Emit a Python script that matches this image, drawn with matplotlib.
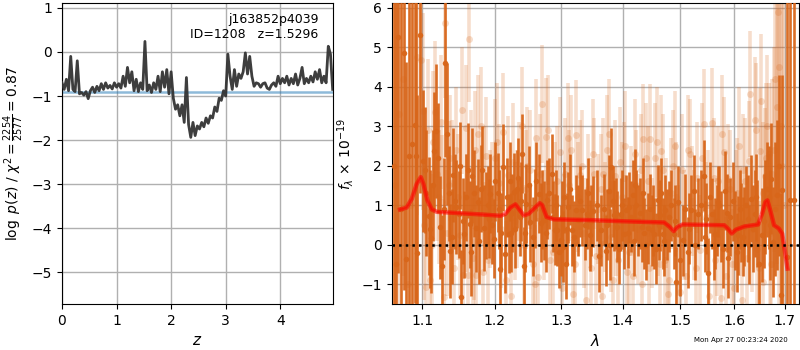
import numpy as np
import matplotlib
matplotlib.use('Agg')
import matplotlib.pyplot as plt
from matplotlib.ticker import FixedLocator, FixedFormatter, NullLocator

# ---------------- p(z) data ----------------
z_grid = [0.00, 0.04, 0.08, 0.12, 0.16, 0.20, 0.24, 0.28, 0.32, 0.36,
          0.40, 0.44, 0.48, 0.52, 0.56, 0.60, 0.64, 0.68, 0.72, 0.76,
          0.80, 0.84, 0.88, 0.92, 0.96, 1.00, 1.04, 1.08, 1.12, 1.16,
          1.20, 1.24, 1.28, 1.32, 1.36, 1.40, 1.44, 1.48, 1.52, 1.56,
          1.60, 1.64, 1.68, 1.72, 1.76, 1.80, 1.84, 1.88, 1.92, 1.96,
          2.00, 2.04, 2.08, 2.12, 2.16, 2.20, 2.24, 2.28, 2.32, 2.36,
          2.40, 2.44, 2.48, 2.52, 2.56, 2.60, 2.64, 2.68, 2.72, 2.76,
          2.80, 2.84, 2.88, 2.92, 2.96, 3.00, 3.04, 3.08, 3.12, 3.16,
          3.20, 3.24, 3.28, 3.32, 3.36, 3.40, 3.44, 3.48, 3.52, 3.56,
          3.60, 3.64, 3.68, 3.72, 3.76, 3.80, 3.84, 3.88, 3.92, 3.96,
          4.00, 4.04, 4.08, 4.12, 4.16, 4.20, 4.24, 4.28, 4.32, 4.36,
          4.40, 4.44, 4.48, 4.52, 4.56, 4.60, 4.64, 4.68, 4.72, 4.76,
          4.80, 4.84, 4.88, 4.92, 4.96]
log_pz = [-0.70, -0.85, -0.62, -0.88, -0.10, -0.85, -0.90, -0.20, -0.95, -0.92,
          -0.98, -0.90, -1.06, -0.88, -0.80, -0.92, -0.78, -0.88, -0.72, -0.85,
          -0.70, -0.82, -0.76, -0.84, -0.70, -0.80, -0.72, -0.82, -0.55, -0.78,
          -0.35, -0.70, -0.45, -0.88, -0.62, -0.90, -0.70, -0.85, 0.24, -0.88,
          -0.75, -0.92, -0.70, -0.85, -0.55, -0.90, -0.45, -0.80, -0.40, -0.95,
          -0.45, -1.05, -1.30, -1.20, -1.45, -1.20, -1.60, -0.58, -1.65, -1.94,
          -1.60, -1.90, -1.68, -1.75, -1.60, -1.70, -1.50, -1.62, -1.45, -1.50,
          -1.25, -1.35, -1.05, -1.10, -0.88, -1.00, -0.05, -0.55, -0.85, -0.40,
          -0.78, -0.50, -0.60, -0.45, -0.02, -0.50, -0.10, -0.55, -0.78, -0.70,
          -0.72, -0.80, -0.72, -0.70, -0.82, -0.85, -0.75, -0.70, -0.78, -0.55,
          -0.72, -0.60, -0.70, -0.55, -0.75, -0.60, -0.72, -0.50, -0.75, -0.60,
          -0.35, -0.72, -0.60, -0.70, -0.55, -0.68, -0.45, -0.62, -0.40, -0.70,
          -0.55, -0.70, 0.13, -0.05, -0.85]
pz_ref_level = -0.90
chi2_label = r'$\log\ p(z)$ / $\chi^2=\frac{2254}{2577}=0.87$'
title_text = 'j163852p4039\nID=1208   z=1.5296'

# ---------------- spectrum: primary (dark), part A ----------------
wave_dark = [1.0635, 1.0665, 1.0691, 1.0729, 1.0764, 1.0790, 1.0833, 1.0872, 1.0908, 1.0917,
             1.0938, 1.0974, 1.1017, 1.1058, 1.1089, 1.1120, 1.1165, 1.1187, 1.1241, 1.1269,
             1.1309, 1.1341, 1.1378, 1.1423, 1.1460, 1.1492, 1.1530, 1.1571, 1.1618, 1.1645,
             1.1683, 1.1730, 1.1758, 1.1806, 1.1843, 1.1872, 1.1921, 1.1939, 1.1987, 1.2045,
             1.2074, 1.2124, 1.2158, 1.2206, 1.2241, 1.2279, 1.2330, 1.2368, 1.2404, 1.2439,
             1.2468, 1.2529, 1.2594, 1.2655, 1.2681, 1.2732, 1.2783, 1.2855, 1.2896, 1.2938,
             1.2990, 1.3032, 1.3074, 1.3111, 1.3175, 1.3227, 1.3264, 1.3334, 1.3404, 1.3457,
             1.3513, 1.3631, 1.3713, 1.3769, 1.3809, 1.3852, 1.3909, 1.3964, 1.4019, 1.4048,
             1.4105, 1.4163, 1.4202, 1.4258, 1.4317, 1.4361, 1.4420, 1.4490, 1.4536, 1.4596,
             1.4641, 1.4683, 1.4724, 1.4801, 1.4880, 1.4920, 1.4962, 1.5041, 1.5132, 1.5190,
             1.5240, 1.5317, 1.5428, 1.5471, 1.5514, 1.5577, 1.5640, 1.5691, 1.5752, 1.5834,
             1.5891, 1.5929, 1.6007, 1.6084, 1.6136, 1.6200, 1.6267, 1.6318, 1.6398, 1.6450,
             1.6544, 1.6610, 1.6676, 1.6731, 1.6760, 1.6852, 1.6920, 1.6948, 1.7049, 1.7103,
             1.7186]
flux_dark = [2.00, -0.50, 5.27, 0.89, 4.86, -0.36, 2.25, 2.56, 3.02, 2.25,
             -0.21, 5.32, 2.12, 1.30, 0.72, 0.17, 2.38, 2.87, 0.44, -0.55,
             4.61, 2.81, -0.16, 1.76, 0.95, 0.77, -1.33, 0.26, 1.88, 0.51,
             1.75, 0.41, 1.08, 1.42, 0.42, 0.74, 0.66, 1.29, 0.15, 1.32,
             -0.63, 1.96, -0.23, 0.28, 0.30, 1.33, 1.41, 0.70, 2.30, -0.55,
             1.04, 0.57, 0.91, 1.29, 0.55, 0.62, 1.14, 1.80, 0.38, 0.36,
             0.11, -0.06, -0.48, 0.95, 0.36, 0.87, 0.62, 0.87, 0.78, 0.24,
             0.85, 0.36, -0.16, 1.37, 1.96, 0.74, 0.45, 0.78, 0.28, 0.87,
             0.95, 1.25, 1.52, 0.62, 0.45, 0.29, 0.41, 0.36, 0.28, 1.12,
             0.74, 0.28, 0.87, 0.70, 0.28, -0.95, 1.08, 0.11, -0.19, 0.87,
             1.37, 0.78, 1.75, 0.66, -0.73, 0.78, 0.28, 1.08, 0.45, 1.37,
             -0.35, 0.70, 0.36, 0.24, 0.55, 0.45, 0.66, 1.16, 0.78, 0.53,
             0.24, 0.95, 1.20, 1.67, 0.07, 1.25, -1.28, 1.39, -0.31, 1.12,
             1.12]
err_dark = [8.0, 7.0, 6.0, 6.0, 6.0, 5.0, 5.0, 5.0, 4.5, 4.0,
            4.0, 4.0, 1.8, 1.6, 1.5, 1.4, 1.5, 1.7, 1.3, 1.3,
            2.4, 1.8, 1.2, 1.2, 1.2, 1.1, 1.2, 1.1, 1.2, 1.1,
            1.2, 1.1, 1.1, 1.1, 1.1, 1.1, 1.0, 1.0, 1.0, 1.0,
            1.0, 1.1, 1.0, 1.0, 1.0, 1.0, 1.0, 1.0, 1.0, 1.0,
            1.0, 1.0, 1.0, 1.0, 1.0, 1.0, 1.0, 1.0, 0.9, 0.9,
            0.9, 0.9, 0.9, 0.9, 0.9, 0.9, 0.9, 0.9, 0.9, 0.9,
            0.9, 0.9, 0.9, 0.9, 1.0, 0.9, 0.9, 0.9, 0.9, 0.9,
            0.9, 0.9, 0.9, 0.9, 0.9, 0.9, 0.9, 0.9, 0.9, 0.9,
            0.9, 0.9, 0.9, 0.9, 0.9, 0.9, 0.9, 0.9, 0.9, 0.9,
            0.9, 0.9, 0.9, 0.9, 0.9, 0.9, 0.9, 0.9, 0.9, 1.0,
            1.0, 1.0, 1.0, 1.0, 1.0, 1.0, 1.1, 1.1, 1.1, 1.1,
            1.2, 1.2, 1.3, 1.4, 1.4, 1.9, 2.6, 2.9, 7.0, 8.0,
            8.0]

# ---------------- spectrum: primary (dark), part B ----------------
wave_dark_b = [1.1035, 1.1100, 1.1150, 1.1210, 1.1290, 1.1360, 1.1400, 1.1440, 1.1510, 1.1550,
               1.1600, 1.1660, 1.1710, 1.1780, 1.1820, 1.1900, 1.1960, 1.2010, 1.2060, 1.2100,
               1.2180, 1.2220, 1.2260, 1.2300, 1.2350, 1.2390, 1.2450, 1.2500, 1.2560, 1.2620,
               1.2700, 1.2760, 1.2810, 1.2870, 1.2920, 1.2960, 1.3010, 1.3050, 1.3090, 1.3140,
               1.3200, 1.3300, 1.3370, 1.3430, 1.3480, 1.3570, 1.3600, 1.3680, 1.3740, 1.3790,
               1.3830, 1.3880, 1.3940, 1.3990, 1.4080, 1.4130, 1.4180, 1.4230, 1.4290, 1.4340,
               1.4390, 1.4460, 1.4510, 1.4560, 1.4620, 1.4660, 1.4700, 1.4760, 1.4840, 1.4900,
               1.4990, 1.5080, 1.5160, 1.5270, 1.5370, 1.5450, 1.5540, 1.5610, 1.5670, 1.5720,
               1.5790, 1.5860, 1.5970, 1.6050, 1.6110, 1.6170, 1.6230, 1.6290, 1.6360, 1.6420,
               1.6490, 1.6580, 1.6640, 1.6700, 1.6800, 1.6880]
flux_dark_b = [1.9, 0.4, 1.5, 2.2, 0.9, 1.3, 0.2, 1.1, 2.0, 0.6,
               1.2, -0.2, 1.3, 0.1, 1.9, 1.0, 0.5, 1.6, 0.9, 0.3,
               1.2, 1.6, 0.8, 0.4, 1.7, 1.1, 0.3, 1.5, 0.2, 1.6,
               0.9, 0.3, 1.3, 0.7, 1.0, -0.2, 0.7, 1.2, 0.4, 1.4,
               0.2, 1.1, 0.5, 1.3, 0.6, 1.0, -0.3, 0.9, 0.5, 0.0,
               1.1, 0.8, -0.1, 1.0, 0.3, 0.7, 0.1, 1.0, 0.8, 1.3,
               0.0, 0.9, 0.6, -0.1, 0.5, 1.3, 0.1, 0.5, 1.0, 0.6,
               -0.4, 0.9, 0.4, 0.0, 1.0, 0.2, 1.2, 0.0, 0.6, 1.0,
               -0.1, 0.8, 1.1, -0.2, 0.9, 0.2, 1.0, 0.0, 0.4, 1.2,
               -0.5, 0.6, 1.4, 0.5, 0.9, 2.0]
err_dark_b = [1.6, 1.5, 1.4, 1.4, 1.3, 1.2, 1.2, 1.2, 1.1, 1.1,
              1.1, 1.1, 1.1, 1.1, 1.1, 1.0, 1.0, 1.0, 1.0, 1.0,
              1.0, 1.0, 1.0, 1.0, 1.0, 1.0, 1.0, 1.0, 1.0, 1.0,
              1.0, 1.0, 0.9, 0.9, 0.9, 0.9, 0.9, 0.9, 0.9, 0.9,
              0.9, 0.9, 0.9, 0.9, 0.9, 0.9, 0.9, 0.9, 0.9, 0.9,
              0.9, 0.9, 0.9, 0.9, 0.9, 0.9, 0.9, 0.9, 0.9, 0.9,
              0.9, 0.9, 0.9, 0.9, 0.9, 0.9, 0.9, 0.9, 0.9, 0.9,
              0.9, 0.9, 0.9, 0.9, 0.9, 0.9, 0.9, 0.9, 0.9, 1.0,
              1.0, 1.0, 1.0, 1.0, 1.0, 1.0, 1.0, 1.0, 1.1, 1.1,
              1.1, 1.2, 1.2, 1.4, 1.7, 2.3]

# ---------------- spectrum: secondary (light), part A ----------------
wave_light = [1.0650, 1.0700, 1.0750, 1.0810, 1.0860, 1.0930, 1.0990, 1.1010, 1.1050, 1.1100,
              1.1150, 1.1170, 1.1230, 1.1270, 1.1290, 1.1310, 1.1360, 1.1400, 1.1460, 1.1510,
              1.1560, 1.1590, 1.1630, 1.1640, 1.1690, 1.1720, 1.1740, 1.1770, 1.1830, 1.1880,
              1.1940, 1.2000, 1.2070, 1.2120, 1.2200, 1.2240, 1.2300, 1.2360, 1.2430, 1.2480,
              1.2520, 1.2560, 1.2620, 1.2640, 1.2710, 1.2760, 1.2830, 1.2900, 1.2980, 1.3010,
              1.3060, 1.3120, 1.3160, 1.3180, 1.3240, 1.3300, 1.3360, 1.3420, 1.3480, 1.3530,
              1.3590, 1.3660, 1.3670, 1.3740, 1.3800, 1.3860, 1.3920, 1.3980, 1.4040, 1.4100,
              1.4170, 1.4230, 1.4300, 1.4350, 1.4400, 1.4450, 1.4470, 1.4550, 1.4600, 1.4650,
              1.4720, 1.4770, 1.4830, 1.4900, 1.4960, 1.5030, 1.5100, 1.5170, 1.5250, 1.5300,
              1.5350, 1.5430, 1.5500, 1.5580, 1.5640, 1.5700, 1.5750, 1.5810, 1.5890, 1.5950,
              1.6000, 1.6060, 1.6120, 1.6180, 1.6240, 1.6290, 1.6300, 1.6398, 1.6450, 1.6500,
              1.6529, 1.6560, 1.6600, 1.6637, 1.6676, 1.6720, 1.6780, 1.6836, 1.6870, 1.6895,
              1.6950]
flux_light = [1.50, 3.30, 4.20, -1.00, 1.00, 4.75, 4.67, 3.38, -1.07, -0.90,
              2.60, 3.37, 1.20, 1.07, -1.33, 5.62, 1.52, 1.55, 2.40, 0.25,
              -0.78, 2.96, -0.78, 5.21, -0.33, 2.40, -0.78, 2.81, -0.70, 2.25,
              0.90, 2.20, 1.55, 2.85, 1.77, -1.30, 0.60, 1.60, 0.00, 2.00,
              1.90, -0.50, 2.70, -0.82, 3.57, 2.72, -0.40, 1.20, 2.35, -1.10,
              1.80, 1.50, 2.40, -1.25, 2.78, 1.77, 0.30, 1.40, -0.60, 1.80,
              0.90, -1.30, 1.80, 2.40, 0.20, 1.75, -0.40, 1.20, 2.49, -0.20,
              -0.80, 1.50, 1.90, 2.67, 2.20, -0.60, 2.67, 2.20, 0.60, 2.38,
              -0.40, -1.25, 1.30, 2.50, 0.10, 1.90, -0.80, 2.30, 0.50, 1.70,
              -0.15, 3.06, 1.00, 3.08, -0.40, 1.60, -1.35, 2.35, 1.65, -0.50,
              -1.10, 1.30, 0.60, 1.90, -0.33, 2.13, 3.82, 3.15, -0.10, 2.37,
              3.63, -0.95, 1.75, 3.01, 2.29, -0.50, 2.40, 3.50, 5.89, 4.50,
              2.00]
err_light = [6.0, 6.0, 5.0, 5.0, 5.0, 4.0, 3.0, 2.5, 2.0, 1.8,
             1.8, 1.8, 1.7, 1.7, 1.7, 1.9, 1.6, 1.6, 1.6, 1.6,
             1.6, 1.6, 1.6, 1.6, 1.5, 1.5, 1.5, 1.5, 1.5, 1.5,
             1.5, 1.5, 1.5, 1.5, 1.5, 1.5, 1.5, 1.5, 1.5, 1.5,
             1.5, 1.5, 1.5, 1.5, 1.5, 1.5, 1.4, 1.4, 1.4, 1.4,
             1.4, 1.4, 1.4, 1.4, 1.4, 1.4, 1.4, 1.4, 1.4, 1.4,
             1.4, 1.4, 1.4, 1.4, 1.4, 1.4, 1.4, 1.4, 1.4, 1.4,
             1.4, 1.4, 1.4, 1.4, 1.4, 1.4, 1.4, 1.4, 1.4, 1.4,
             1.4, 1.4, 1.4, 1.4, 1.4, 1.4, 1.4, 1.4, 1.4, 1.4,
             1.4, 1.4, 1.4, 1.4, 1.4, 1.4, 1.4, 1.4, 1.4, 1.4,
             1.4, 1.4, 1.4, 1.4, 1.5, 1.5, 1.6, 1.6, 1.6, 1.6,
             1.7, 1.7, 1.7, 1.8, 1.8, 2.0, 2.6, 4.0, 6.0, 6.0,
             6.0]

# ---------------- spectrum: secondary (light), part B ----------------
wave_light_b = [1.1030, 1.1080, 1.1130, 1.1200, 1.1250, 1.1330, 1.1380, 1.1430, 1.1480, 1.1540,
                1.1610, 1.1660, 1.1710, 1.1800, 1.1850, 1.1910, 1.1970, 1.2040, 1.2100, 1.2160,
                1.2270, 1.2330, 1.2400, 1.2460, 1.2590, 1.2680, 1.2730, 1.2800, 1.2870, 1.2940,
                1.3040, 1.3100, 1.3210, 1.3270, 1.3330, 1.3390, 1.3450, 1.3510, 1.3560, 1.3630,
                1.3710, 1.3770, 1.3830, 1.3890, 1.3950, 1.4010, 1.4070, 1.4140, 1.4200, 1.4260,
                1.4330, 1.4420, 1.4500, 1.4580, 1.4630, 1.4690, 1.4750, 1.4800, 1.4870, 1.4930,
                1.5000, 1.5060, 1.5130, 1.5210, 1.5280, 1.5390, 1.5460, 1.5530, 1.5610, 1.5670,
                1.5770, 1.5850, 1.5920, 1.6030, 1.6090, 1.6150, 1.6210, 1.6340, 1.6420, 1.6480,
                1.6570, 1.6620, 1.6700, 1.6750, 1.6810, 1.6920, 1.6990]
flux_light_b = [0.5, 2.9, 0.0, 1.8, 3.1, 0.3, 2.2, -0.6, 1.2, 3.4,
                0.8, 1.9, 0.1, 3.0, 1.5, -0.4, 1.1, 2.6, 0.4, -0.9,
                2.1, 0.9, 3.0, 1.4, -1.0, 1.8, 0.5, 2.9, -0.2, 1.6,
                0.4, 2.7, -0.5, 1.2, 2.0, -1.4, 0.8, 2.3, -0.3, 1.4,
                0.7, 2.8, -0.9, 0.6, 2.1, 1.7, -0.7, 1.1, 2.3, 0.4,
                -1.0, 1.6, 0.3, 2.6, -0.5, 1.9, 0.8, -0.9, 2.0, 1.2,
                -1.2, 0.5, 2.4, 1.1, -0.6, 2.2, 0.7, -1.3, 1.7, 0.2,
                2.8, -0.8, 1.4, 0.9, 2.5, -1.4, 1.6, 0.4, 2.9, -0.6,
                1.3, 2.2, 0.3, 1.8, 4.2, 3.0, 1.0]
err_light_b = [1.9, 1.8, 1.8, 1.7, 1.7, 1.6, 1.6, 1.6, 1.6, 1.6,
               1.5, 1.5, 1.5, 1.5, 1.5, 1.5, 1.5, 1.5, 1.5, 1.5,
               1.5, 1.5, 1.5, 1.5, 1.5, 1.5, 1.4, 1.4, 1.4, 1.4,
               1.4, 1.4, 1.4, 1.4, 1.4, 1.4, 1.4, 1.4, 1.4, 1.4,
               1.4, 1.4, 1.4, 1.4, 1.4, 1.4, 1.4, 1.4, 1.4, 1.4,
               1.4, 1.4, 1.4, 1.4, 1.4, 1.4, 1.4, 1.4, 1.4, 1.4,
               1.4, 1.4, 1.4, 1.4, 1.4, 1.4, 1.4, 1.4, 1.5, 1.5,
               1.5, 1.5, 1.5, 1.5, 1.5, 1.6, 1.6, 1.6, 1.7, 1.7,
               1.8, 1.9, 2.0, 2.4, 3.0, 6.0, 6.0]

# ---------------- model ----------------
wave_model = [1.0713, 1.0799, 1.0865, 1.0930, 1.0983, 1.1017, 1.1071, 1.1130, 1.1197, 1.1470,
              1.1844, 1.2085, 1.2158, 1.2231, 1.2305, 1.2354, 1.2428, 1.2503, 1.2605, 1.2670,
              1.2707, 1.2773, 1.2886, 1.3469, 1.4019, 1.4710, 1.4800, 1.4880, 1.4951, 1.5041,
              1.5812, 1.5877, 1.5953, 1.6037, 1.6200, 1.6365, 1.6466, 1.6545, 1.6612, 1.6652,
              1.6717, 1.6786, 1.6880, 1.6949, 1.7002, 1.7058]
flux_model = [0.89, 0.94, 1.16, 1.54, 1.71, 1.54, 1.12, 0.89, 0.83, 0.80,
              0.76, 0.73, 0.78, 0.94, 1.02, 0.91, 0.74, 0.78, 0.95, 1.05,
              1.00, 0.70, 0.64, 0.62, 0.59, 0.56, 0.46, 0.34, 0.45, 0.51,
              0.49, 0.41, 0.28, 0.38, 0.46, 0.49, 0.51, 0.78, 1.08, 1.12,
              0.83, 0.49, 0.41, 0.28, -0.14, -0.61]

lam_ticks = [1.1, 1.2, 1.3, 1.4, 1.5, 1.6, 1.7]
lam_labels = ['1.1', '1.2', '1.3', '1.4', '1.5', '1.6', '1.7']
timestamp = 'Mon Apr 27 00:23:24 2020'

# ---------------- figure ----------------
plt.rcParams['font.family'] = ['DejaVu Sans']
fig = plt.figure(figsize=(8, 3.5), dpi=100)
ax1 = fig.add_axes([0.0775, 0.131, 0.339, 0.860])
ax2 = fig.add_axes([0.4896, 0.131, 0.5094, 0.860])

# left panel
ax1.plot(z_grid, log_pz, color='#333333', lw=2.0, alpha=0.95, zorder=3)
ax1.axhline(pz_ref_level, color='tab:blue', alpha=0.5, lw=1.8, zorder=2)
ax1.set_xlim(0, 4.97)
ax1.set_ylim(-5.73, 1.11)
ax1.set_xticks([0, 1, 2, 3, 4])
ax1.set_yticks([-5, -4, -3, -2, -1, 0, 1])
ax1.grid(True, color='#b0b0b0', lw=1.0)
ax1.set_axisbelow(True)
ax1.set_xlabel(r'$z$', fontsize=11)
ax1.set_ylabel(chi2_label, fontsize=10)
ax1.text(0.945, 0.967, title_text, ha='right', va='top', transform=ax1.transAxes,
         fontsize=9, multialignment='right')

# right panel
orange = '#d8661a'
for w, f, e in ((wave_light, flux_light, err_light), (wave_light_b, flux_light_b, err_light_b)):
    ax2.errorbar(w, f, yerr=e, color=orange, alpha=0.22, marker='o', ms=5.0,
                 ls='none', elinewidth=2.6, mew=0, zorder=2)
for w, f, e in ((wave_dark, flux_dark, err_dark), (wave_dark_b, flux_dark_b, err_dark_b)):
    ax2.errorbar(w, f, yerr=e, color=orange, alpha=0.95, marker='o', ms=4.0,
                 ls='none', elinewidth=1.9, mew=0, zorder=3)
ax2.plot(wave_model, flux_model, color='red', lw=3.2, alpha=0.55, zorder=5)
ax2.plot(wave_model, flux_model, color='red', lw=1.2, alpha=0.5, zorder=5)
ax2.axhline(0, color='black', ls=':', lw=1.8, zorder=6)
ax2.set_xscale('log')
ax2.set_xlim(1.0606, 1.730)
ax2.set_ylim(-1.51, 6.12)
ax2.xaxis.set_major_locator(FixedLocator(lam_ticks))
ax2.xaxis.set_major_formatter(FixedFormatter(lam_labels))
ax2.xaxis.set_minor_locator(NullLocator())
ax2.set_yticks([-1, 0, 1, 2, 3, 4, 5, 6])
ax2.grid(True, color='#b0b0b0', lw=1.0)
ax2.set_axisbelow(True)
ax2.set_xlabel(r'$\lambda$', fontsize=11)
ax2.set_ylabel(r'$f_\lambda\,\times\,10^{-19}$', fontsize=10)

for ax in (ax1, ax2):
    ax.tick_params(labelsize=10)

fig.text(0.985, 0.029, timestamp, ha='right', va='center', fontsize=5)

fig.savefig('out.png', dpi=100)
